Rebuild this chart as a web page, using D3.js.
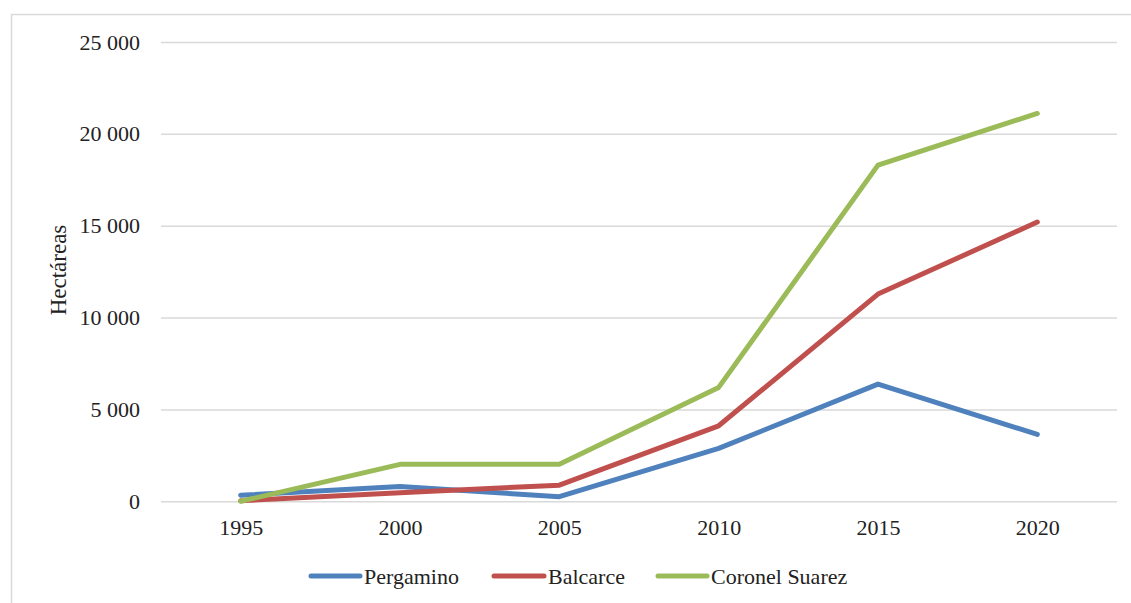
<!DOCTYPE html>
<html>
<head>
<meta charset="utf-8">
<script src="https://cdn.jsdelivr.net/npm/d3@7"></script>
<style>
  html, body { margin: 0; padding: 0; background: #fff; }
  svg { display: block; font-family: "Liberation Serif", "Times New Roman", serif; }
</style>
</head>
<body>
<svg id="chart" width="1131" height="603"></svg>
<script>
// Surface (hectares) per partido, 1995–2020
const years = ["1995", "2000", "2005", "2010", "2015", "2020"];
const pergamino = [330, 800, 250, 2880, 6380, 3640];
const balcarce = [30, 470, 880, 4110, 11280, 15200];
const coronelSuarez = [0, 2010, 2020, 6200, 18300, 21110];
const seriesNames = ["Pergamino", "Balcarce", "Coronel Suarez"];
const yTicks = [0, 5000, 10000, 15000, 20000, 25000];

const colors = ["#4F81BD", "#C0504D", "#9BBB59"];
const series = [pergamino, balcarce, coronelSuarez].map((values, i) => ({
  name: seriesNames[i], color: colors[i], values
}));

const svg = d3.select("#chart");
const W = 1131, H = 603;

// chart frame
svg.append("rect")
  .attr("x", 11.5).attr("y", 14.5)
  .attr("width", W).attr("height", H)
  .attr("fill", "#fff").attr("stroke", "#d9d9d9").attr("stroke-width", 1.5);

const plot = { left: 161, right: 1117, top: 42, bottom: 501.3 };

const x = d3.scalePoint()
  .domain(years)
  .range([plot.left, plot.right])
  .padding(0.5);

const y = d3.scaleLinear()
  .domain([0, 25000])
  .range([plot.bottom, plot.top]);

const locale = d3.formatLocale({ decimal: ",", thousands: " ", grouping: [3], currency: ["", ""] });
const fmt = locale.format(",d");

// horizontal gridlines and value labels
const yAxis = svg.append("g")
  .attr("transform", `translate(${plot.left},0)`)
  .call(d3.axisLeft(y).tickValues(yTicks).tickFormat(fmt)
    .tickSize(-(plot.right - plot.left)).tickPadding(21));
yAxis.select(".domain").remove();
yAxis.selectAll(".tick line").attr("stroke", "#d9d9d9").attr("stroke-width", 1.5);
yAxis.selectAll(".tick text")
  .attr("fill", "#222").style("font-size", "22px")
  .style("font-family", "'Liberation Serif', 'Times New Roman', serif");

// category labels
const xAxis = svg.append("g")
  .attr("transform", `translate(0,${plot.bottom})`)
  .call(d3.axisBottom(x).tickSize(0).tickPadding(18));
xAxis.select(".domain").remove();
xAxis.selectAll(".tick text")
  .attr("fill", "#222").style("font-size", "22px")
  .style("font-family", "'Liberation Serif', 'Times New Roman', serif");

// y-axis title
svg.append("text")
  .attr("transform", `translate(66,270) rotate(-90)`)
  .attr("text-anchor", "middle")
  .attr("fill", "#222")
  .style("font-size", "23px")
  .text("Hectáreas");

// series lines
const line = d3.line()
  .x((d, i) => x(years[i]))
  .y(d => y(d));

svg.append("g").selectAll("path")
  .data(series)
  .join("path")
  .attr("d", d => line(d.values))
  .attr("fill", "none")
  .attr("stroke", d => d.color)
  .attr("stroke-width", 5)
  .attr("stroke-linecap", "round")
  .attr("stroke-linejoin", "round");

// legend
const legendY = 576;
const legendItems = [
  { x0: 311, x1: 360, tx: 364 },
  { x0: 494, x1: 544, tx: 548 },
  { x0: 658, x1: 707, tx: 711 }
];
const legend = svg.append("g");
series.forEach((s, i) => {
  const p = legendItems[i];
  legend.append("line")
    .attr("x1", p.x0).attr("x2", p.x1)
    .attr("y1", legendY).attr("y2", legendY)
    .attr("stroke", s.color).attr("stroke-width", 5)
    .attr("stroke-linecap", "round");
  legend.append("text")
    .attr("x", p.tx).attr("y", legendY + 7.5)
    .attr("fill", "#222")
    .style("font-size", "22px")
    .text(s.name);
});
</script>
</body>
</html>
